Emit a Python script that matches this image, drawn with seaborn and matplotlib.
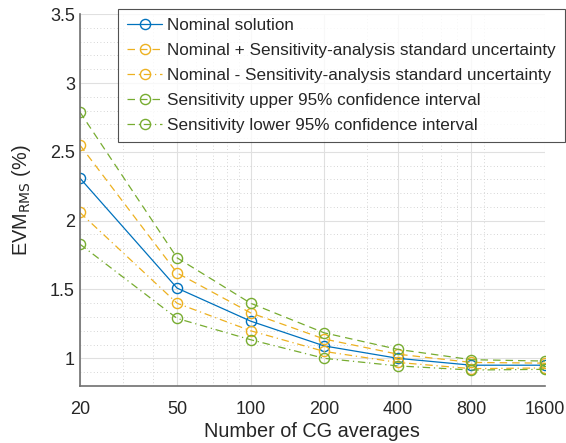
import numpy as np
import pandas as pd
import matplotlib
matplotlib.use("Agg")
import matplotlib.pyplot as plt
import seaborn as sns
from matplotlib.ticker import LogLocator, NullFormatter, FixedLocator, MultipleLocator

# data
cg_averages = [20, 50, 100, 200, 400, 800, 1600]
nominal = [2.31, 1.51, 1.27, 1.09, 1.00, 0.95, 0.95]
nominal_plus = [2.55, 1.62, 1.33, 1.14, 1.03, 0.97, 0.965]
nominal_minus = [2.06, 1.40, 1.20, 1.05, 0.97, 0.925, 0.93]
upper_ci = [2.79, 1.73, 1.40, 1.185, 1.065, 0.99, 0.98]
lower_ci = [1.83, 1.29, 1.135, 1.00, 0.945, 0.915, 0.92]

labels = [
    "Nominal solution",
    "Nominal + Sensitivity-analysis standard uncertainty",
    "Nominal - Sensitivity-analysis standard uncertainty",
    "Sensitivity upper 95% confidence interval",
    "Sensitivity lower 95% confidence interval",
]
series = [nominal, nominal_plus, nominal_minus, upper_ci, lower_ci]
colors = ["#0072BD", "#EDB120", "#EDB120", "#77AC30", "#77AC30"]
styles = ["-", (0, (6, 4)), (0, (6, 3, 1, 3)), (0, (6, 4)), (0, (6, 3, 1, 3))]

sns.set_style("white")
plt.rcParams["font.family"] = ["Liberation Sans", "DejaVu Sans"]

fig = plt.figure(figsize=(5.66, 4.43), dpi=100)
ax = fig.add_axes([0.141, 0.129, 0.822, 0.839])

for lab, vals, col, ls in zip(labels, series, colors, styles):
    df = pd.DataFrame({"n": cg_averages, "evm": vals})
    sns.lineplot(data=df, x="n", y="evm", ax=ax, color=col, linestyle=ls,
                 linewidth=0.9, marker="o", markersize=7.3, markerfacecolor="none",
                 markeredgecolor=col, markeredgewidth=1.0, label=lab)

ax.set_xscale("log")
ax.set_xlim(20, 1600)
ax.set_ylim(0.8, 3.5)
ax.xaxis.set_major_locator(FixedLocator(cg_averages))
ax.set_xticklabels([str(v) for v in cg_averages])
ax.xaxis.set_minor_locator(LogLocator(base=10, subs=np.arange(2, 10)))
ax.xaxis.set_minor_formatter(NullFormatter())
ax.set_yticks([1, 1.5, 2, 2.5, 3, 3.5])
ax.set_yticklabels(["1", "1.5", "2", "2.5", "3", "3.5"])
ax.yaxis.set_minor_locator(MultipleLocator(0.1))

ax.grid(True, which="major", color="#e0e0e0", linewidth=0.8, linestyle="-")
ax.grid(True, which="minor", color="#c8c8c8", linewidth=0.6, linestyle=(0, (1, 3)))
ax.set_axisbelow(True)

for s in ["top", "right"]:
    ax.spines[s].set_visible(False)
for s in ["left", "bottom"]:
    ax.spines[s].set_color("#707070")
    ax.spines[s].set_linewidth(1.2)

ax.tick_params(which="both", direction="in", colors="#707070", labelcolor="#262626",
               labelsize=13)
ax.tick_params(which="major", length=5)
ax.tick_params(which="minor", length=3)
ax.tick_params(axis="x", pad=11)

ax.set_xlabel("Number of CG averages", fontsize=14.3, color="#262626", labelpad=3)
ax.set_ylabel(r"EVM$_{\mathrm{RMS}}$ (%)", fontsize=14.3, color="#262626", labelpad=12)

leg = ax.legend(loc="upper right", bbox_to_anchor=(0.998, 0.98),
                bbox_transform=fig.transFigure, fontsize=12.3, frameon=True,
                fancybox=False, edgecolor="#262626", handlelength=2.0,
                borderpad=0.55, labelspacing=0.58, handletextpad=0.3,
                borderaxespad=0)
leg.get_frame().set_linewidth(0.8)

fig.savefig("out.png", dpi=100)
